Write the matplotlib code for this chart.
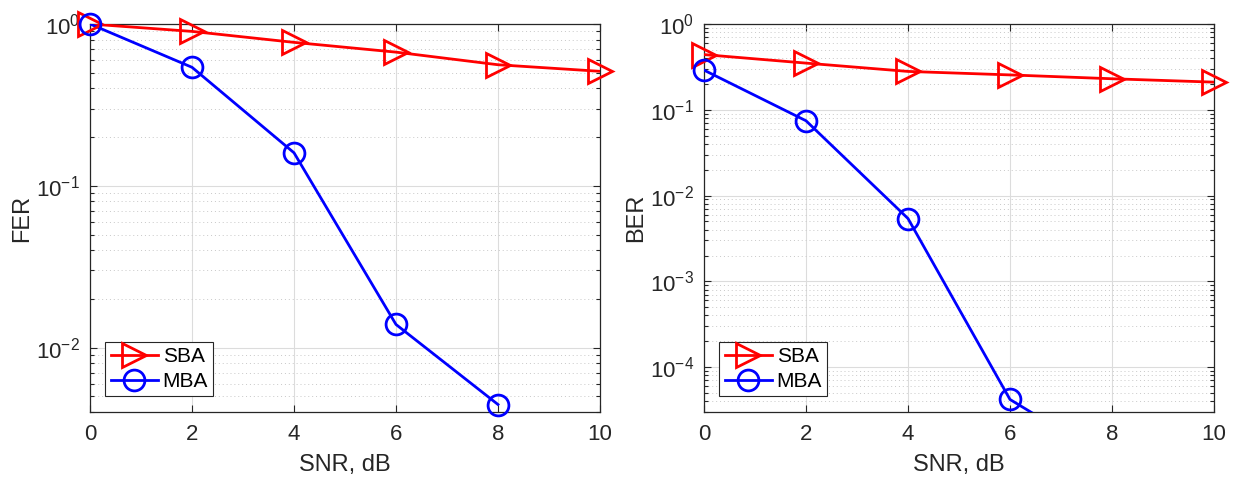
import numpy as np
import matplotlib.pyplot as plt
from matplotlib.ticker import LogLocator, NullFormatter

plt.rcParams['font.family'] = ['Liberation Sans', 'DejaVu Sans']
plt.rcParams['mathtext.fontset'] = 'custom'
plt.rcParams['mathtext.rm'] = 'Liberation Sans'
plt.rcParams['axes.unicode_minus'] = False

# дані
snr = [0, 2, 4, 6, 8, 10]
fer_sba = [1.0, 0.90, 0.77, 0.67, 0.56, 0.51]
fer_mba = [1.0, 0.54, 0.16, 0.0139, 0.00445]
ber_sba = [0.44, 0.35, 0.28, 0.255, 0.23, 0.21]
ber_mba = [0.29, 0.0745, 0.0054, 4.2e-5, 8e-6]

panels = [
    ("FER", fer_sba, fer_mba, (4e-3, 1)),
    ("BER", ber_sba, ber_mba, (3e-5, 1)),
]

txt = '#262626'
fig = plt.figure(figsize=(12.35, 4.8), dpi=100)
lefts = [90 / 1235, 704 / 1235]

for left, (ylabel, sba, mba, ylim) in zip(lefts, panels):
    ax = fig.add_axes([left, 68 / 480, 510 / 1235, 388 / 480])
    ax.set_yscale('log')
    ax.set_xlim(0, 10)
    ax.set_ylim(*ylim)

    handles = []
    for vals, col, mk, ms, name in [(sba, 'red', '>', 17, 'SBA'), (mba, 'blue', 'o', 15, 'MBA')]:
        xs = snr[:len(vals)]
        ax.plot(xs, vals, color=col, lw=2, zorder=3)
        # маркери поза межами осей не обрізаються (як у MATLAB)
        keep = [i for i, v in enumerate(vals) if v >= ylim[0]]
        ax.plot([xs[i] for i in keep], [vals[i] for i in keep], ls='none', marker=mk,
                ms=ms, mfc='none', mec=col, mew=2, clip_on=False, zorder=4)
        proxy, = ax.plot([], [], color=col, lw=2, marker=mk, ms=ms, mfc='none', mew=2, label=name)
        handles.append(proxy)

    ax.set_xticks(range(0, 11, 2))
    ax.yaxis.set_major_locator(LogLocator(base=10, numticks=10))
    ax.yaxis.set_minor_locator(LogLocator(base=10, subs=np.arange(2, 10), numticks=20))
    ax.yaxis.set_minor_formatter(NullFormatter())
    ax.grid(True, which='major', color='#dcdcdc', lw=0.8, ls='-')
    ax.grid(True, which='minor', axis='y', color='#c8c8c8', lw=0.7, ls=(0, (1, 3)))
    ax.set_axisbelow(True)
    ax.tick_params(which='both', direction='in', top=True, right=True, colors=txt,
                   labelsize=16, width=0.8)
    ax.tick_params(which='major', length=5)
    ax.tick_params(which='minor', length=3)
    ax.tick_params(axis='x', which='major', pad=9)
    ax.tick_params(axis='y', which='major', pad=7)
    for s in ax.spines.values():
        s.set_color(txt)
        s.set_linewidth(0.9)
    ax.set_xlabel('SNR, dB', fontsize=17, color=txt, labelpad=6)
    ax.set_ylabel(ylabel, fontsize=17, color=txt, labelpad=2)

    leg = ax.legend(handles=handles, loc='lower left', bbox_to_anchor=(0.03, 0.04),
                    fontsize=15, numpoints=1, handlelength=2.3, handletextpad=0.2,
                    borderpad=0.25, labelspacing=0.3, fancybox=False, framealpha=1,
                    edgecolor=txt, borderaxespad=0)
    leg.get_frame().set_linewidth(0.8)

fig.savefig('out.png', dpi=100)
